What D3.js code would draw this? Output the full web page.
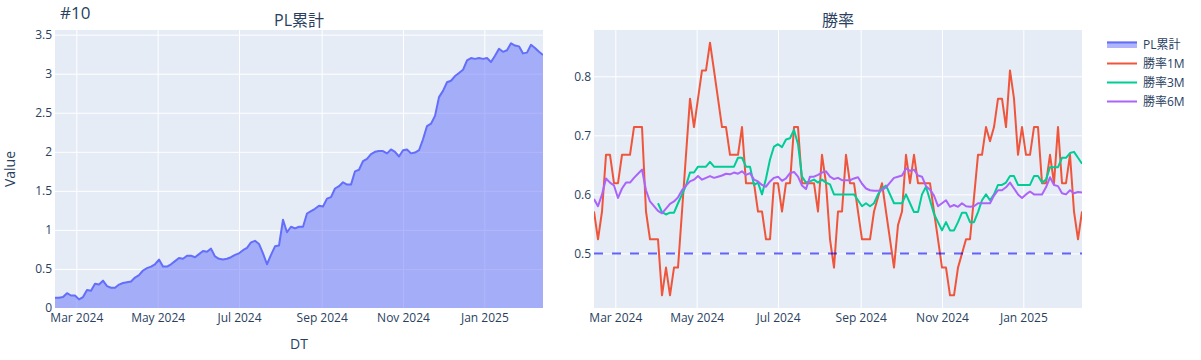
<!DOCTYPE html>
<html><head><meta charset="utf-8">
<script src="https://cdn.jsdelivr.net/npm/d3@7"></script>
<style>
body{margin:0;background:#fff}
svg text{font-family:"Open Sans","Noto Sans CJK JP",sans-serif;fill:#2a3f5f}
</style>
</head><body>
<svg id="c" width="1201" height="360"></svg>
<script>
const dates = [
"2024-02-14","2024-02-17","2024-02-20","2024-02-23","2024-02-26","2024-02-29","2024-03-03","2024-03-06","2024-03-09","2024-03-12",
"2024-03-15","2024-03-18","2024-03-21","2024-03-24","2024-03-27","2024-03-30","2024-04-02","2024-04-05","2024-04-08","2024-04-11",
"2024-04-14","2024-04-17","2024-04-20","2024-04-23","2024-04-26","2024-04-29","2024-05-02","2024-05-05","2024-05-08","2024-05-11",
"2024-05-14","2024-05-17","2024-05-20","2024-05-23","2024-05-26","2024-05-29","2024-06-01","2024-06-04","2024-06-07","2024-06-10",
"2024-06-13","2024-06-16","2024-06-19","2024-06-22","2024-06-25","2024-06-28","2024-07-01","2024-07-04","2024-07-07","2024-07-10",
"2024-07-13","2024-07-16","2024-07-19","2024-07-22","2024-07-25","2024-07-28","2024-07-31","2024-08-03","2024-08-06","2024-08-09",
"2024-08-12","2024-08-15","2024-08-18","2024-08-21","2024-08-24","2024-08-27","2024-08-30","2024-09-02","2024-09-05","2024-09-08",
"2024-09-11","2024-09-14","2024-09-17","2024-09-20","2024-09-23","2024-09-26","2024-09-29","2024-10-02","2024-10-05","2024-10-08",
"2024-10-11","2024-10-14","2024-10-17","2024-10-20","2024-10-23","2024-10-26","2024-10-29","2024-11-01","2024-11-04","2024-11-07",
"2024-11-10","2024-11-13","2024-11-16","2024-11-19","2024-11-22","2024-11-25","2024-11-28","2024-12-01","2024-12-04","2024-12-07",
"2024-12-10","2024-12-13","2024-12-16","2024-12-19","2024-12-22","2024-12-25","2024-12-28","2024-12-31","2025-01-03","2025-01-06",
"2025-01-09","2025-01-12","2025-01-15","2025-01-18","2025-01-21","2025-01-24","2025-01-27","2025-01-30","2025-02-02","2025-02-05",
"2025-02-08","2025-02-11","2025-02-14"];

const plCum = [
0.13,0.13,0.14,0.19,0.16,0.16,0.11,0.14,0.23,0.22,
0.31,0.30,0.35,0.28,0.26,0.26,0.30,0.32,0.33,0.34,
0.39,0.42,0.48,0.51,0.53,0.56,0.62,0.53,0.53,0.56,
0.60,0.64,0.63,0.67,0.67,0.65,0.69,0.73,0.72,0.76,
0.66,0.63,0.62,0.63,0.65,0.68,0.70,0.74,0.77,0.84,
0.86,0.82,0.70,0.56,0.68,0.79,0.80,1.13,0.97,1.04,
1.02,1.04,1.04,1.21,1.24,1.27,1.31,1.30,1.40,1.42,
1.53,1.56,1.61,1.58,1.58,1.75,1.77,1.88,1.91,1.97,
2.00,2.01,2.01,1.98,2.03,2.00,1.94,2.02,2.03,1.98,
1.99,2.02,2.16,2.33,2.36,2.46,2.70,2.78,2.89,2.91,
2.97,3.01,3.05,3.17,3.20,3.19,3.20,3.19,3.20,3.15,
3.23,3.32,3.28,3.30,3.39,3.36,3.35,3.26,3.27,3.37,
3.33,3.28,3.24];

const wr1m = [
0.571,0.524,0.571,0.667,0.667,0.619,0.619,0.667,0.667,0.667,
0.714,0.714,0.714,0.571,0.524,0.524,0.524,0.429,0.476,0.429,
0.476,0.476,0.571,0.667,0.762,0.714,0.762,0.810,0.810,0.857,
0.810,0.762,0.714,0.714,0.667,0.667,0.667,0.714,0.619,0.619,
0.619,0.571,0.571,0.524,0.524,0.619,0.619,0.571,0.619,0.619,
0.714,0.714,0.619,0.619,0.619,0.619,0.571,0.667,0.619,0.524,
0.476,0.571,0.571,0.667,0.619,0.619,0.571,0.524,0.524,0.524,
0.571,0.595,0.619,0.571,0.524,0.476,0.548,0.571,0.667,0.619,
0.667,0.619,0.619,0.619,0.619,0.571,0.524,0.476,0.476,0.429,
0.429,0.476,0.500,0.524,0.524,0.595,0.667,0.667,0.714,0.690,
0.714,0.762,0.762,0.714,0.810,0.762,0.667,0.714,0.667,0.667,
0.714,0.714,0.619,0.619,0.667,0.619,0.714,0.619,0.619,0.667,
0.571,0.524,0.571];

const wr3m = [
null,null,null,null,null,null,null,null,null,null,
null,null,null,null,null,null,0.585,0.570,0.566,0.569,
0.569,0.585,0.600,0.615,0.637,0.637,0.647,0.647,0.647,0.655,
0.647,0.647,0.647,0.647,0.647,0.647,0.662,0.662,0.647,0.647,
0.616,0.620,0.600,0.627,0.659,0.681,0.685,0.680,0.693,0.695,
0.709,0.685,0.630,0.620,0.622,0.625,0.620,0.625,0.620,0.617,
0.600,0.600,0.600,0.600,0.600,0.600,0.590,0.580,0.585,0.580,
0.585,0.600,0.610,0.615,0.600,0.585,0.585,0.585,0.600,0.585,
0.570,0.570,0.600,0.613,0.590,0.567,0.553,0.539,0.553,0.539,
0.539,0.553,0.569,0.569,0.553,0.553,0.570,0.590,0.600,0.590,
0.600,0.616,0.616,0.620,0.631,0.631,0.616,0.616,0.616,0.616,
0.631,0.631,0.620,0.625,0.646,0.646,0.646,0.662,0.662,0.670,
0.672,0.662,0.652];

const wr6m = [
0.592,0.580,0.600,0.627,0.620,0.615,0.594,0.610,0.620,0.620,
0.628,0.635,0.642,0.607,0.588,0.580,0.572,0.568,0.576,0.584,
0.588,0.595,0.607,0.615,0.622,0.625,0.631,0.625,0.628,0.631,
0.628,0.630,0.632,0.635,0.634,0.637,0.635,0.639,0.633,0.636,
0.625,0.622,0.616,0.613,0.622,0.628,0.630,0.623,0.627,0.636,
0.638,0.630,0.615,0.609,0.630,0.630,0.633,0.637,0.639,0.630,
0.626,0.628,0.624,0.624,0.624,0.627,0.629,0.618,0.610,0.607,
0.606,0.606,0.607,0.612,0.620,0.628,0.630,0.632,0.644,0.640,
0.642,0.632,0.630,0.614,0.608,0.598,0.580,0.585,0.590,0.579,
0.582,0.579,0.585,0.580,0.579,0.580,0.585,0.585,0.585,0.585,
0.598,0.607,0.607,0.612,0.620,0.610,0.600,0.594,0.600,0.605,
0.600,0.600,0.600,0.612,0.629,0.616,0.614,0.602,0.600,0.607,
0.602,0.604,0.603];

const threshold = 0.5;
const xTickDates = ["2024-03-01","2024-05-01","2024-07-01","2024-09-01","2024-11-01","2025-01-01"];
const xTickLabels = ["Mar 2024","May 2024","Jul 2024","Sep 2024","Nov 2024","Jan 2025"];
const yTicksPL = [0,0.5,1,1.5,2,2.5,3,3.5];
const yTicksWR = [0.5,0.6,0.7,0.8];
const seriesNames = ["PL累計","勝率1M","勝率3M","勝率6M"];
const colors = ["#636efa","#EF553B","#00cc96","#ab63fa"];

const parse = d3.timeParse("%Y-%m-%d");
const X = dates.map(parse);
const xt = xTickDates.map(parse);
const svg = d3.select("#c");

const L = {x0:55,x1:543,y0:30,y1:308};
const R = {x0:594,x1:1082,y0:30,y1:308};

const xDom = d3.extent(X);
const xL = d3.scaleTime().domain(xDom).range([L.x0,L.x1]);
const xR = d3.scaleTime().domain(xDom).range([R.x0,R.x1]);
const yL = d3.scaleLinear().domain([0, d3.max(plCum)*1.05]).range([L.y1,L.y0]);
const allWR = wr1m.concat(wr3m, wr6m).filter(v=>v!=null);
const lo = d3.min(allWR), hi = d3.max(allWR), pad = (hi-lo)*0.05;
const yR = d3.scaleLinear().domain([lo-pad, hi+pad]).range([R.y1,R.y0]);

const defs = svg.append("defs");
[["clipL",L],["clipR",R]].forEach(([id,b])=>{
  defs.append("clipPath").attr("id",id).append("rect")
    .attr("x",b.x0).attr("y",b.y0).attr("width",b.x1-b.x0).attr("height",b.y1-b.y0);
});

function panel(b, xs, ys, yt, fmtY){
  svg.append("rect").attr("x",b.x0).attr("y",b.y0).attr("width",b.x1-b.x0).attr("height",b.y1-b.y0).attr("fill","#E5ECF6");
  const gx = svg.append("g").attr("transform",`translate(0,${b.y1})`)
    .call(d3.axisBottom(xs).tickValues(xt).tickSize(-(b.y1-b.y0)).tickFormat(""));
  gx.select(".domain").remove();
  gx.selectAll("line").attr("stroke","#fff").attr("stroke-width",1);
  const gy = svg.append("g").attr("transform",`translate(${b.x0},0)`)
    .call(d3.axisLeft(ys).tickValues(yt).tickSize(-(b.x1-b.x0)).tickFormat(""));
  gy.select(".domain").remove();
  gy.selectAll("line").attr("stroke","#fff").attr("stroke-width",1);
  const ax = svg.append("g").attr("transform",`translate(0,${b.y1})`)
    .call(d3.axisBottom(xs).tickValues(xt).tickSize(0).tickPadding(5.5).tickFormat((d,i)=>xTickLabels[i]));
  ax.select(".domain").remove();
  ax.attr("font-size",12).attr("font-family",null);
  const ay = svg.append("g").attr("transform",`translate(${b.x0},0)`)
    .call(d3.axisLeft(ys).tickValues(yt).tickSize(0).tickPadding(3).tickFormat(fmtY));
  ay.select(".domain").remove();
  ay.attr("font-size",12).attr("font-family",null);
}

panel(L, xL, yL, yTicksPL, d3.format("~g"));
panel(R, xR, yR, yTicksWR, d3.format(".1f"));

const gL = svg.append("g").attr("clip-path","url(#clipL)");
gL.append("path").datum(plCum)
  .attr("d", d3.area().x((d,i)=>xL(X[i])).y0(yL(0)).y1(d=>yL(d)))
  .attr("fill", colors[0]).attr("fill-opacity",0.5);
gL.append("path").datum(plCum)
  .attr("d", d3.line().x((d,i)=>xL(X[i])).y(d=>yL(d)))
  .attr("fill","none").attr("stroke",colors[0]).attr("stroke-width",2).attr("stroke-linejoin","round");

const gR = svg.append("g").attr("clip-path","url(#clipR)");
[wr1m, wr3m, wr6m].forEach((s,k)=>{
  gR.append("path").datum(s)
    .attr("d", d3.line().defined(d=>d!=null).x((d,i)=>xR(X[i])).y(d=>yR(d)))
    .attr("fill","none").attr("stroke",colors[k+1]).attr("stroke-width",2).attr("stroke-linejoin","round");
});
svg.append("line").attr("x1",R.x0).attr("x2",R.x1).attr("y1",yR(threshold)).attr("y2",yR(threshold))
  .attr("stroke","rgb(0,0,255)").attr("stroke-opacity",0.6).attr("stroke-width",2).attr("stroke-dasharray","9,9");

svg.append("text").attr("x",60).attr("y",18.5).attr("font-size",17).text("#10");
svg.append("text").attr("x",(L.x0+L.x1)/2).attr("y",25.5).attr("text-anchor","middle").attr("font-size",16).text("PL累計");
svg.append("text").attr("x",(R.x0+R.x1)/2).attr("y",25.5).attr("text-anchor","middle").attr("font-size",16).text("勝率");
svg.append("text").attr("x",(L.x0+L.x1)/2).attr("y",349).attr("text-anchor","middle").attr("font-size",14).text("DT");
svg.append("text").attr("transform",`translate(15,${(L.y0+L.y1)/2}) rotate(-90)`).attr("text-anchor","middle").attr("font-size",14).text("Value");

const lg = svg.append("g");
seriesNames.forEach((n,k)=>{
  const cy = 44.5 + k*19;
  if(k===0){
    lg.append("rect").attr("x",1107).attr("y",cy-3).attr("width",30).attr("height",6.5)
      .attr("fill",colors[0]).attr("fill-opacity",0.5);
    lg.append("line").attr("x1",1107).attr("x2",1137).attr("y1",cy-2).attr("y2",cy-2)
      .attr("stroke",colors[0]).attr("stroke-width",2);
  } else {
    lg.append("line").attr("x1",1107).attr("x2",1137).attr("y1",cy).attr("y2",cy)
      .attr("stroke",colors[k]).attr("stroke-width",2);
  }
  lg.append("text").attr("x",1143).attr("y",cy+4.3).attr("font-size",12).text(n);
});
</script>
</body></html>
